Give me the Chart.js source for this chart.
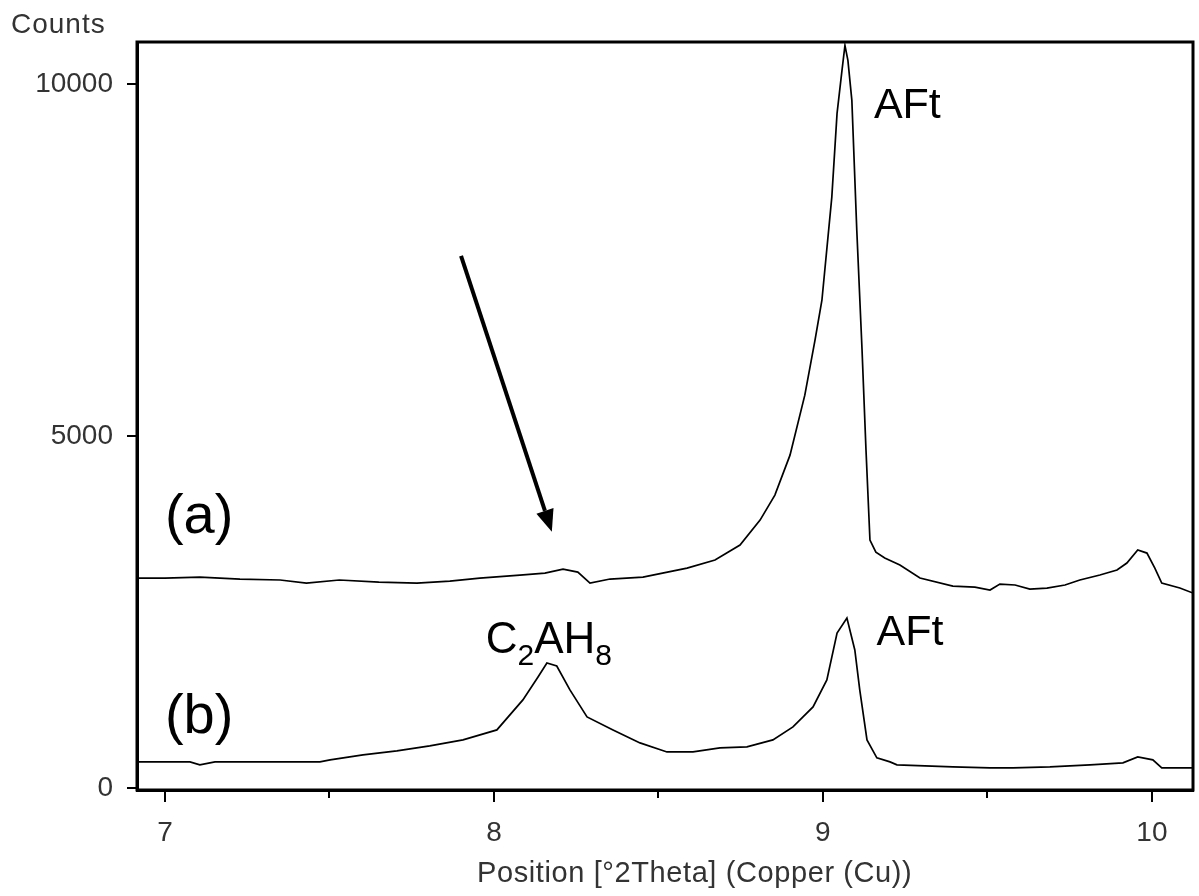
<!DOCTYPE html>
<html>
<head>
<meta charset="utf-8">
<title>XRD pattern</title>
<script src="https://cdn.jsdelivr.net/npm/chart.js@4.4.1/dist/chart.umd.min.js"></script>
<style>
  html, body { margin: 0; padding: 0; background: #fff; }
  #wrap { width: 1199px; height: 896px; }
</style>
</head>
<body>
<div id="wrap"><canvas id="xrdChart" width="1199" height="896"></canvas></div>
<script>
// tick values
const xTicks = [7, 8, 9, 10];
const xMinorTicks = [7.5, 8.5, 9.5];
const yTicks = [0, 5000, 10000];

// curve (a) - position [°2Theta] / counts
const xa = [6.915, 7.0, 7.106, 7.228, 7.35, 7.43, 7.53, 7.65, 7.766, 7.866, 7.957, 8.079, 8.155, 8.21, 8.255, 8.292, 8.353, 8.453, 8.587, 8.672, 8.748, 8.809, 8.854, 8.9, 8.945, 8.976, 8.997, 9.027, 9.043, 9.058, 9.067, 9.076, 9.088, 9.103, 9.119, 9.131, 9.143, 9.161, 9.188, 9.234, 9.295, 9.395, 9.462, 9.508, 9.538, 9.584, 9.629, 9.681, 9.736, 9.781, 9.842, 9.894, 9.924, 9.957, 9.985, 10.009, 10.03, 10.085, 10.125];
const ya = [2982, 2982, 2996, 2968, 2954, 2911, 2954, 2925, 2911, 2939, 2982, 3025, 3053, 3110, 3067, 2911, 2968, 2996, 3124, 3238, 3451, 3806, 4161, 4729, 5581, 6362, 6930, 8392, 9585, 10196, 10551, 10338, 9770, 7924, 6220, 4800, 3522, 3351, 3266, 3167, 2982, 2868, 2854, 2812, 2897, 2883, 2826, 2840, 2883, 2954, 3025, 3096, 3195, 3380, 3337, 3124, 2911, 2840, 2769];

// curve (b)
const xb = [6.915, 7.076, 7.106, 7.152, 7.471, 7.502, 7.602, 7.705, 7.805, 7.906, 8.009, 8.088, 8.134, 8.161, 8.191, 8.231, 8.283, 8.362, 8.444, 8.526, 8.605, 8.687, 8.769, 8.848, 8.909, 8.97, 9.012, 9.043, 9.073, 9.097, 9.112, 9.134, 9.164, 9.204, 9.225, 9.395, 9.508, 9.578, 9.69, 9.812, 9.912, 9.957, 10.003, 10.03, 10.125];
const yb = [369, 369, 327, 369, 369, 398, 469, 525, 596, 682, 824, 1250, 1576, 1775, 1732, 1392, 1008, 824, 639, 511, 511, 568, 582, 682, 866, 1150, 1534, 2201, 2414, 1960, 1392, 682, 426, 369, 327, 298, 284, 284, 298, 327, 355, 440, 398, 284, 284];

// text labels placed at data positions
const noteText = ['AFt', '(a)', '(b)', 'AFt'];
const noteX = [9.155, 7.0, 7.0, 9.163];
const noteY = [9520, 3620, 780, 2030];
const noteSize = [43, 56, 56, 43];

// arrow from / to (data units)
const arrowFrom = [7.9, 7560];
const arrowTo = [8.176, 3640];

function toPoints(xs, ys) {
    return xs.map((x, i) => ({ x: x, y: ys[i] }));
}

const FONT = '"Liberation Sans", Arial, sans-serif';

// Frame, minor ticks, notes, arrow and axis names
const extrasPlugin = {
    id: 'extras',
    afterDraw(chart) {
        const ctx = chart.ctx;
        const area = chart.chartArea;
        const xs = chart.scales.x;
        const ys = chart.scales.y;
        ctx.save();

        // frame
        ctx.strokeStyle = '#000';
        ctx.lineWidth = 3;
        ctx.strokeRect(area.left, area.top, area.right - area.left, area.bottom - area.top);

        // minor ticks on x
        ctx.lineWidth = 2;
        xMinorTicks.forEach(v => {
            const px = Math.round(xs.getPixelForValue(v));
            ctx.beginPath();
            ctx.moveTo(px, area.bottom);
            ctx.lineTo(px, area.bottom + 8);
            ctx.stroke();
        });

        // notes
        ctx.fillStyle = '#000';
        ctx.textBaseline = 'alphabetic';
        ctx.textAlign = 'left';
        noteText.forEach((t, i) => {
            ctx.font = noteSize[i] + 'px ' + FONT;
            ctx.fillText(t, xs.getPixelForValue(noteX[i]), ys.getPixelForValue(noteY[i]));
        });

        // C2AH8 with subscripts
        let cx = xs.getPixelForValue(7.975);
        const cy = ys.getPixelForValue(1910);
        const parts = [['C', false], ['2', true], ['AH', false], ['8', true]];
        parts.forEach(([t, sub]) => {
            ctx.font = (sub ? 30 : 44) + 'px ' + FONT;
            ctx.fillText(t, cx, sub ? cy + 12 : cy);
            cx += ctx.measureText(t).width;
        });

        // arrow
        const x0 = xs.getPixelForValue(arrowFrom[0]);
        const y0 = ys.getPixelForValue(arrowFrom[1]);
        const x1 = xs.getPixelForValue(arrowTo[0]);
        const y1 = ys.getPixelForValue(arrowTo[1]);
        const ang = Math.atan2(y1 - y0, x1 - x0);
        const headLen = 22, headW = 9;
        const bx = x1 - headLen * Math.cos(ang);
        const by = y1 - headLen * Math.sin(ang);
        ctx.lineWidth = 4;
        ctx.beginPath();
        ctx.moveTo(x0, y0);
        ctx.lineTo(bx, by);
        ctx.stroke();
        ctx.beginPath();
        ctx.moveTo(x1, y1);
        ctx.lineTo(bx + headW * Math.sin(ang), by - headW * Math.cos(ang));
        ctx.lineTo(bx - headW * Math.sin(ang), by + headW * Math.cos(ang));
        ctx.closePath();
        ctx.fill();

        // axis names
        ctx.fillStyle = '#333';
        ctx.font = '28px ' + FONT;
        ctx.letterSpacing = '1px';
        ctx.fillText('Counts', 11, 33);
        ctx.font = '29px ' + FONT;
        ctx.letterSpacing = '0.6px';
        ctx.fillText('Position [°2Theta] (Copper (Cu))', 477, 882);
        ctx.letterSpacing = '0px';

        ctx.restore();
    }
};

const ctx = document.getElementById('xrdChart').getContext('2d');
const xrdChart = new Chart(ctx, {
    type: 'line',
    data: {
        datasets: [
            { label: '(a)', data: toPoints(xa, ya), borderColor: '#000', borderWidth: 1.7, pointRadius: 0, tension: 0, fill: false },
            { label: '(b)', data: toPoints(xb, yb), borderColor: '#000', borderWidth: 1.7, pointRadius: 0, tension: 0, fill: false }
        ]
    },
    options: {
        responsive: false,
        animation: false,
        events: [],
        layout: { padding: { top: 42, right: 6, left: 0, bottom: 0 } },
        plugins: {
            legend: { display: false },
            tooltip: { enabled: false },
            title: { display: false }
        },
        scales: {
            x: {
                type: 'linear',
                min: 6.915,
                max: 10.125,
                afterFit: scale => { scale.height = 106; },
                afterBuildTicks: scale => { scale.ticks = xTicks.map(v => ({ value: v })); },
                grid: { drawOnChartArea: false, tickLength: 12, color: '#000', lineWidth: 2 },
                border: { display: true, color: '#000', width: 3 },
                ticks: { color: '#333', font: { family: FONT, size: 28 }, padding: 14, maxRotation: 0 }
            },
            y: {
                type: 'linear',
                min: -30,
                max: 10600,
                afterFit: scale => { scale.width = 137; },
                afterBuildTicks: scale => { scale.ticks = yTicks.map(v => ({ value: v })); },
                grid: { drawOnChartArea: false, tickLength: 10, color: '#000', lineWidth: 2 },
                border: { display: true, color: '#000', width: 3 },
                ticks: { color: '#333', font: { family: FONT, size: 28 }, padding: 14, callback: v => String(v) }
            }
        }
    },
    plugins: [extrasPlugin]
});
</script>
</body>
</html>
